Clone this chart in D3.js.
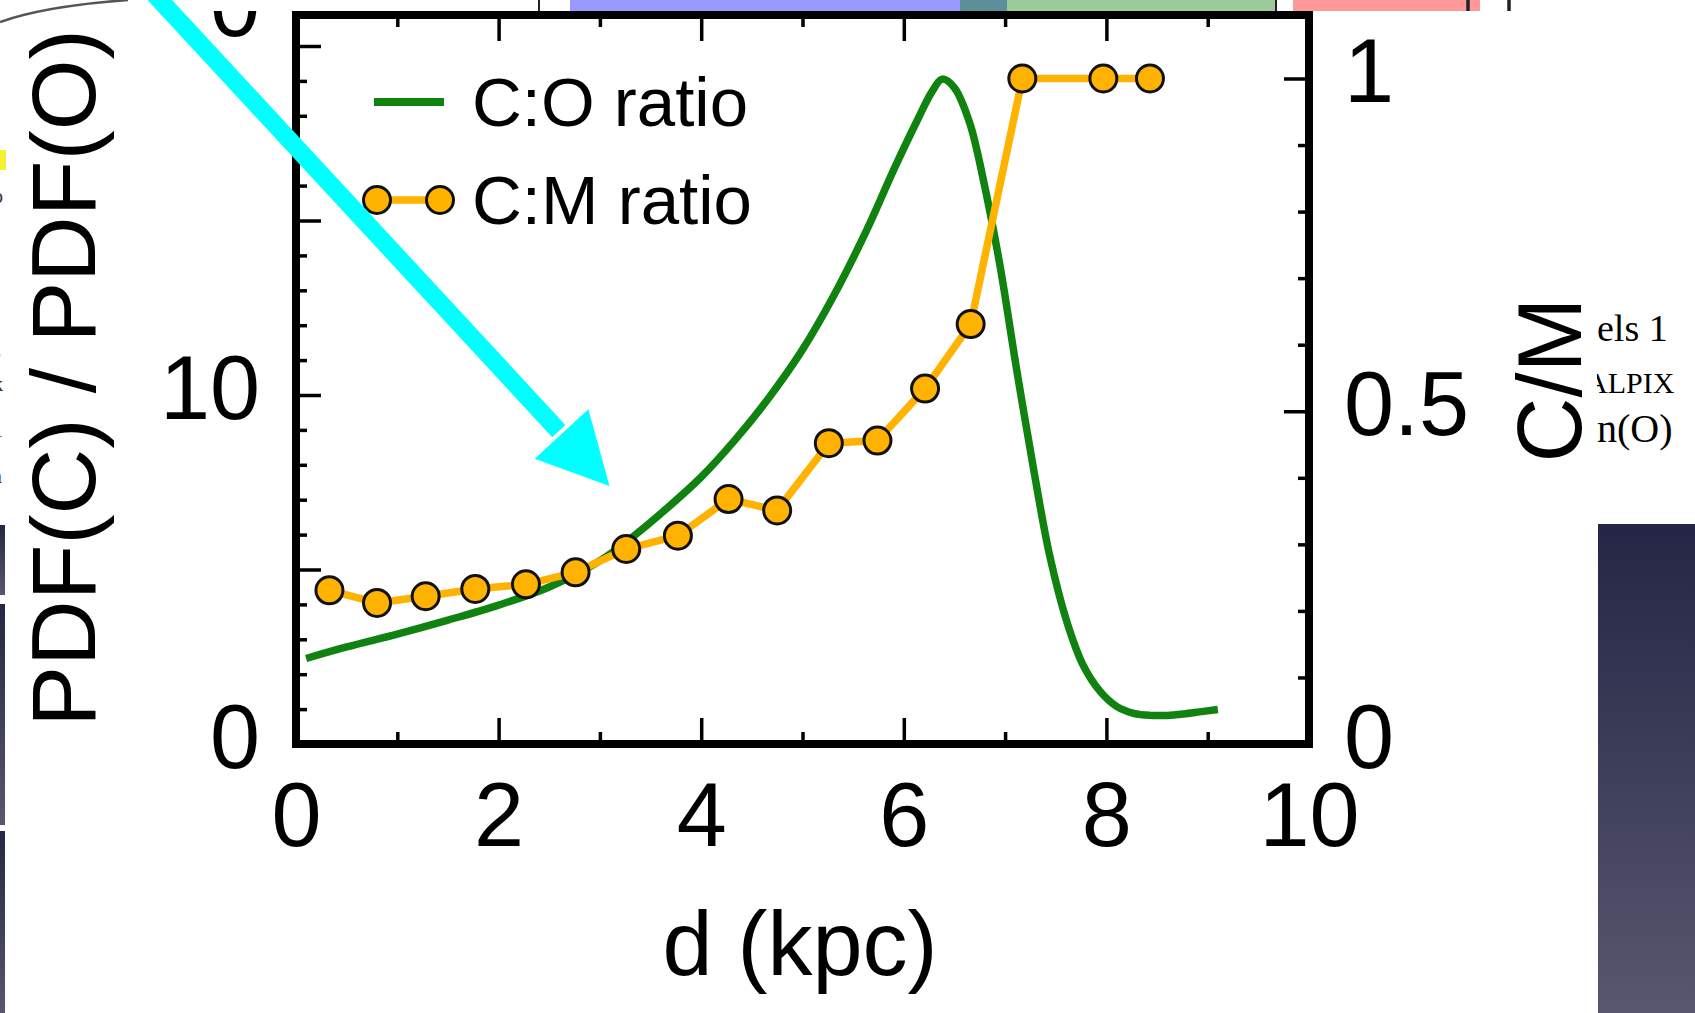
<!DOCTYPE html>
<html>
<head>
<meta charset="utf-8">
<script src="https://cdn.jsdelivr.net/npm/d3@7"></script>
<style>
html, body { margin: 0; padding: 0; background: #fff; overflow: hidden; }
svg { display: block; }
text { font-family: "Liberation Sans", Arial, Helvetica, sans-serif; fill: #000; }
</style>
</head>
<body>
<script>
// C:M ratio (right axis), one point per distance bin
var cmDist  = [0.33, 0.80, 1.28, 1.77, 2.27, 2.76, 3.26, 3.77, 4.27, 4.75, 5.26, 5.74, 6.21, 6.66, 7.17, 7.97, 8.43];
var cmRatio = [0.231, 0.212, 0.222, 0.233, 0.240, 0.258, 0.293, 0.313, 0.368, 0.351, 0.452, 0.456, 0.534, 0.631, 1.0, 1.0, 1.0];

// C:O ratio curve (left axis), PDF(C)/PDF(O)
var coDist  = [0.10, 0.50, 1.00, 1.50, 2.00, 2.50, 3.00, 3.33, 3.66, 4.00, 4.33, 4.65, 5.00, 5.30, 5.63, 5.90, 6.13, 6.28, 6.38,
               6.50, 6.65, 6.79, 6.95, 7.11, 7.28, 7.44, 7.61, 7.77, 7.94, 8.10, 8.27, 8.43, 8.60, 8.76, 8.92, 9.10];
var coRatio = [2.45, 2.78, 3.15, 3.55, 3.98, 4.50, 5.25, 5.95, 6.75, 7.65, 8.70, 9.85, 11.3, 12.8, 14.7, 16.45, 17.85, 18.7, 19.05,
               18.8, 17.8, 16.1, 13.7, 10.8, 7.9, 5.4, 3.5, 2.26, 1.5, 1.08, 0.88, 0.82, 0.82, 0.86, 0.92, 0.99];

// tick labels
var xTickLabels = [0, 2, 4, 6, 8, 10];
var leftTickLabels = [0, 10];
var rightTickLabels = [0, 0.5, 1];
var rightTickText = ["0", "0.5", "1"];

var legendNames = ["C:O ratio", "C:M ratio"];

// page / plot geometry
var W = 1695, H = 1013;
var plot_l = 296, plot_r = 1309, plot_t = 15, plot_b = 744;
var big_font = 90;
var green = "#0f820f", orange = "#ffb200";
var dot_r = 13.5, line_w = 7.5;

var svg = d3.select("body").append("svg").attr("width", W).attr("height", H);

var x = d3.scaleLinear().domain([0, 10]).range([plot_l, plot_r]);
var yL = d3.scaleLinear().domain([0, 20]).range([plot_b, 46]);
var yR = d3.scaleLinear().domain([0, 1]).range([plot_b, 78.5]);

// ---- slide background pieces ----
var defs = svg.append("defs");
var grad = defs.append("linearGradient").attr("id", "dark").attr("x1", 0).attr("y1", 0).attr("x2", 0).attr("y2", 1);
grad.append("stop").attr("offset", "0%").attr("stop-color", "#252645");
grad.append("stop").attr("offset", "100%").attr("stop-color", "#57576f");
defs.append("clipPath").attr("id", "rclip").append("rect")
    .attr("x", 1597).attr("y", 0).attr("width", 100).attr("height", H);

// dark photo on the right and strips on the left edge
svg.append("rect").attr("x", 1598).attr("y", 524).attr("width", W - 1598).attr("height", H - 524).attr("fill", "url(#dark)");
[[525, 595], [604, 825], [831, 1013]].forEach(function(s) {
    svg.append("rect").attr("x", 0).attr("y", s[0]).attr("width", 5).attr("height", s[1] - s[0]).attr("fill", "url(#dark)");
});
svg.append("rect").attr("x", 0).attr("y", 150).attr("width", 6).attr("height", 20).attr("fill", "#f2f230");
[["o", 203], ["s", 358], ["k", 391], ["1", 437], ["a", 483]].forEach(function(t) {
    svg.append("text").attr("x", -7).attr("y", t[1]).text(t[0])
        .style("font-family", "Liberation Serif").style("font-size", "20px").style("fill", "#333");
});

// serif text cut off on the right
var rt = svg.append("g").attr("clip-path", "url(#rclip)");
rt.append("text").attr("x", 1597).attr("y", 341).text("els 1").style("font-family", "Liberation Serif").style("font-size", "38px");
rt.append("text").attr("x", 1546).attr("y", 393).text("HEALPIX").style("font-family", "Liberation Serif").style("font-size", "30px");
rt.append("text").attr("x", 1597).attr("y", 442).text("n(O)").style("font-family", "Liberation Serif").style("font-size", "40px");

// ---- frame and ticks ----
svg.append("rect").attr("x", plot_l).attr("y", plot_t).attr("width", plot_r - plot_l).attr("height", plot_b - plot_t)
    .attr("fill", "none").attr("stroke", "#000").attr("stroke-width", 8);

function tickGroup(axis, tx, ty) {
    var g = svg.append("g").attr("transform", "translate(" + tx + "," + ty + ")").call(axis);
    g.select(".domain").remove();
    g.selectAll(".tick line").attr("stroke", "#000").attr("stroke-width", 3.5);
    return g;
}
var xMinor = [1, 3, 5, 7, 9], xMajor = [2, 4, 6, 8];
tickGroup(d3.axisTop(x).tickValues(xMinor).tickSize(12).tickFormat(""), 0, plot_b);
tickGroup(d3.axisTop(x).tickValues(xMajor).tickSize(26).tickFormat(""), 0, plot_b);
tickGroup(d3.axisBottom(x).tickValues(xMinor).tickSize(12).tickFormat(""), 0, plot_t);
tickGroup(d3.axisBottom(x).tickValues(xMajor).tickSize(26).tickFormat(""), 0, plot_t);

var lMinor = d3.range(1, 20).filter(function(d) { return d % 5 != 0; });
tickGroup(d3.axisRight(yL).tickValues(lMinor).tickSize(11).tickFormat(""), plot_l, 0);
tickGroup(d3.axisRight(yL).tickValues([5, 10, 15, 20]).tickSize(25).tickFormat(""), plot_l, 0);

var rMinor = [0.1, 0.2, 0.3, 0.4, 0.6, 0.7, 0.8, 0.9];
tickGroup(d3.axisLeft(yR).tickValues(rMinor).tickSize(11).tickFormat(""), plot_r, 0);
tickGroup(d3.axisLeft(yR).tickValues([0.5, 1]).tickSize(25).tickFormat(""), plot_r, 0);

// ---- tick labels ----
function labelGroup(axis, tx, ty, dy) {
    var g = svg.append("g").attr("transform", "translate(" + tx + "," + ty + ")").call(axis);
    g.select(".domain").remove();
    g.attr("font-family", null).attr("font-size", null);
    g.selectAll("text").style("font-size", big_font + "px").style("fill", "#000");
    if (dy) g.selectAll("text").attr("dy", dy);
    return g;
}
labelGroup(d3.axisBottom(x).tickValues(xTickLabels).tickSize(0).tickPadding(38).tickFormat(d3.format("d")), 0, plot_b);
labelGroup(d3.axisLeft(yL).tickValues(leftTickLabels).tickSize(0).tickPadding(36).tickFormat(d3.format("d")), plot_l, 0, "0.26em");
labelGroup(d3.axisRight(yR).tickValues(rightTickLabels).tickSize(0).tickPadding(35)
    .tickFormat(function(d, i) { return rightTickText[i]; }), plot_r, 0, "0.26em");
// remains of the top left label, mostly hidden under the strip above
svg.append("text").attr("x", plot_l - 36).attr("y", 36).attr("text-anchor", "end").text("0").style("font-size", big_font + "px");

// axis titles
svg.append("text").attr("x", 800).attr("y", 975).attr("text-anchor", "middle").text("d (kpc)").style("font-size", big_font + "px");
svg.append("text").attr("transform", "translate(95,378) rotate(-90)").attr("text-anchor", "middle")
    .text("PDF(C) / PDF(O)").style("font-size", "91px");
svg.append("text").attr("transform", "translate(1581,380) rotate(-90)").attr("text-anchor", "middle")
    .text("C/M").style("font-size", big_font + "px");

// ---- data ----
var coData = coDist.map(function(d, i) { return [d, coRatio[i]]; });
var cmData = cmDist.map(function(d, i) { return [d, cmRatio[i]]; });

svg.append("path").datum(coData)
    .attr("d", d3.line().x(function(d) { return x(d[0]); }).y(function(d) { return yL(d[1]); }).curve(d3.curveCatmullRom.alpha(0.5)))
    .attr("fill", "none").attr("stroke", green).attr("stroke-width", line_w).attr("stroke-linejoin", "round");

svg.append("path").datum(cmData)
    .attr("d", d3.line().x(function(d) { return x(d[0]); }).y(function(d) { return yR(d[1]); }))
    .attr("fill", "none").attr("stroke", orange).attr("stroke-width", line_w).attr("stroke-linejoin", "round");

svg.selectAll("circle.cm").data(cmData).enter().append("circle").attr("class", "cm")
    .attr("cx", function(d) { return x(d[0]); })
    .attr("cy", function(d) { return yR(d[1]); })
    .attr("r", dot_r)
    .attr("fill", orange).attr("stroke", "#111").attr("stroke-width", 3);

// ---- legend ----
var lg = svg.append("g");
lg.append("line").attr("x1", 374).attr("x2", 444).attr("y1", 102).attr("y2", 102).attr("stroke", green).attr("stroke-width", 8);
lg.append("line").attr("x1", 377).attr("x2", 440).attr("y1", 200).attr("y2", 200).attr("stroke", orange).attr("stroke-width", line_w);
[377, 440].forEach(function(cx) {
    lg.append("circle").attr("cx", cx).attr("cy", 200).attr("r", dot_r).attr("fill", orange).attr("stroke", "#111").attr("stroke-width", 3);
});
lg.selectAll("text").data(legendNames).enter().append("text")
    .attr("x", 472).attr("y", function(d, i) { return i == 0 ? 126 : 224; })
    .text(function(d) { return d; }).style("font-size", "69px");

// ---- strip of the figure above ----
var strip_h = 11;
svg.append("rect").attr("x", 0).attr("y", 0).attr("width", W).attr("height", strip_h).attr("fill", "#fff");
var bars = [[570, 960, "#9999ff"], [960, 1007, "#5b8f99"], [1007, 1275, "#9ccb9a"], [1293, 1480, "#ff9999"]];
bars.forEach(function(b) {
    svg.append("rect").attr("x", b[0]).attr("y", 0).attr("width", b[1] - b[0]).attr("height", strip_h).attr("fill", b[2]);
});
[[539, 2], [1276, 2], [1468, 3.5], [1509, 3.5]].forEach(function(l) {
    svg.append("line").attr("x1", l[0]).attr("x2", l[0]).attr("y1", 0).attr("y2", strip_h)
        .attr("stroke", "#222").attr("stroke-width", l[1]);
});
svg.append("path").attr("d", "M0,22 Q45,6 128,0").attr("fill", "none").attr("stroke", "#555").attr("stroke-width", 2.5);

// ---- cyan arrow ----
var arrow_tail = [132, -30], arrow_base = [561.5, 434], arrow_tip = [609.5, 486];
var ux = arrow_tip[0] - arrow_base[0], uy = arrow_tip[1] - arrow_base[1];
var ul = Math.sqrt(ux * ux + uy * uy);
var half = 36.5;
var nx = uy / ul * half, ny = -ux / ul * half;
svg.append("line").attr("x1", arrow_tail[0]).attr("y1", arrow_tail[1])
    .attr("x2", arrow_base[0] - ux / ul * 4).attr("y2", arrow_base[1] - uy / ul * 4)
    .attr("stroke", "#00ffff").attr("stroke-width", 18);
svg.append("polygon")
    .attr("points", [[arrow_base[0] + nx, arrow_base[1] + ny], arrow_tip, [arrow_base[0] - nx, arrow_base[1] - ny]].join(" "))
    .attr("fill", "#00ffff");
</script>
</body>
</html>
